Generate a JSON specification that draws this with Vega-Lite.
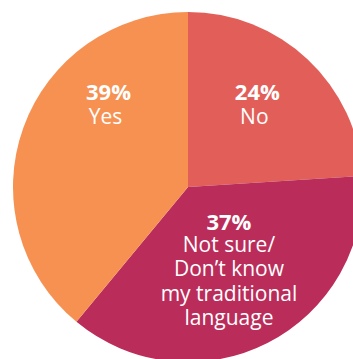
{
  "$schema": "https://vega.github.io/schema/vega-lite/v6.json",
  "autosize": {"type": "none"},
  "padding": {"left": 23, "top": 15, "right": 0, "bottom": 0},
  "width": 330,
  "height": 344,
  "background": "white",
  "view": {"stroke": null},
  "data": {
    "values": [
      {"k": 1, "category": "No", "value": 24, "pct": "24%", "label": "No"},
      {"k": 2, "category": "Not sure", "value": 37, "pct": "37%", "label": "Not sure/\nDon’t know\nmy traditional\nlanguage"},
      {"k": 3, "category": "Yes", "value": 39, "pct": "39%", "label": "Yes"}
    ]
  },
  "encoding": {
    "theta": {"field": "value", "type": "quantitative", "stack": true},
    "order": {"field": "k", "type": "quantitative"}
  },
  "layer": [
    {
      "mark": {"type": "arc", "outerRadius": 175, "stroke": null},
      "encoding": {
        "color": {
          "field": "category",
          "type": "nominal",
          "scale": {"domain": ["No", "Not sure", "Yes"], "range": ["#E25F59", "#BA2D5B", "#F69152"]},
          "legend": null
        }
      }
    },
    {
      "mark": {"type": "text", "radius": 110, "font": "Open Sans", "fontSize": 22, "fontWeight": "bold", "fill": "white", "baseline": "alphabetic", "align": "center", "dx": -6, "dy": -7},
      "encoding": {"text": {"condition": {"test": "datum.k == 1", "field": "pct"}, "value": ""}}
    },
    {
      "mark": {"type": "text", "radius": 110, "font": "Open Sans", "fontSize": 21, "fill": "white", "baseline": "alphabetic", "align": "center", "dx": -9, "dy": 17},
      "encoding": {"text": {"condition": {"test": "datum.k == 1", "field": "label"}, "value": ""}}
    },
    {
      "mark": {"type": "text", "radius": 110, "font": "Open Sans", "fontSize": 22, "fontWeight": "bold", "fill": "white", "baseline": "alphabetic", "align": "center", "dx": 24, "dy": -50},
      "encoding": {"text": {"condition": {"test": "datum.k == 3", "field": "pct"}, "value": ""}}
    },
    {
      "mark": {"type": "text", "radius": 110, "font": "Open Sans", "fontSize": 21, "fill": "white", "baseline": "alphabetic", "align": "center", "dx": 21, "dy": -26},
      "encoding": {"text": {"condition": {"test": "datum.k == 3", "field": "label"}, "value": ""}}
    },
    {
      "mark": {"type": "text", "radius": 110, "font": "Open Sans", "fontSize": 22, "fontWeight": "bold", "fill": "white", "baseline": "alphabetic", "align": "center", "dx": -9, "dy": -55},
      "encoding": {"text": {"condition": {"test": "datum.k == 2", "field": "pct"}, "value": ""}}
    },
    {
      "mark": {"type": "text", "radius": 110, "font": "Open Sans", "fontSize": 21, "fill": "white", "baseline": "alphabetic", "align": "center", "lineBreak": "\n", "lineHeight": 24.3, "dx": -9, "dy": -33},
      "encoding": {"text": {"condition": {"test": "datum.k == 2", "field": "label"}, "value": ""}}
    }
  ]
}
